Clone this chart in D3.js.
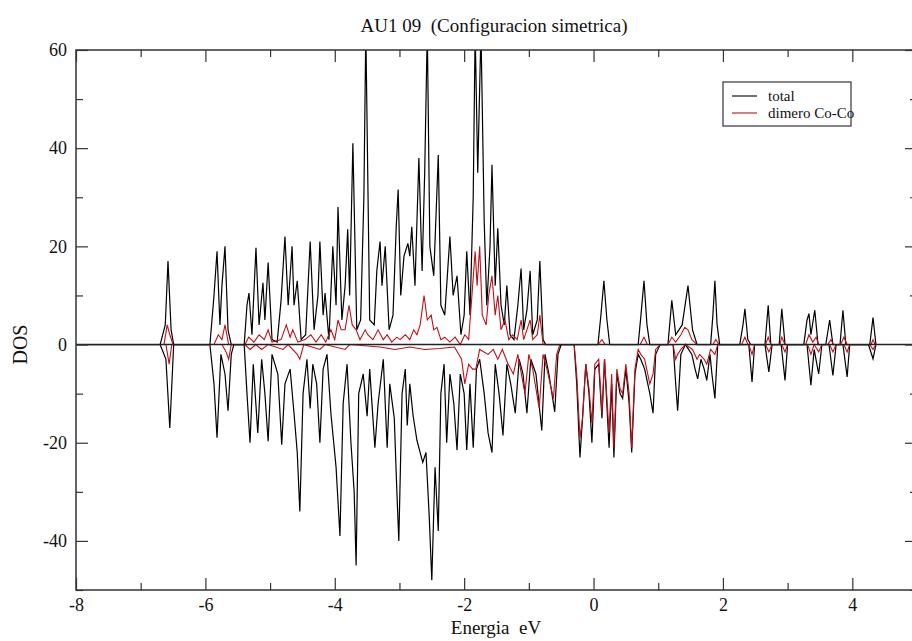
<!DOCTYPE html>
<html>
<head>
<meta charset="utf-8">
<script src="https://cdn.jsdelivr.net/npm/d3@7"></script>
<style>
  body { margin: 0; background: #fff; }
  svg { display: block; font-family: "Liberation Serif", "DejaVu Serif", serif; }
</style>
</head>
<body>
<div id="chart"></div>
<script>
// tick values
const xMajorTicks = [-8, -6, -4, -2, 0, 2, 4];
const xMinorTicks = [-7, -5, -3, -1, 1, 3];
const yMajorTicks = [-40, -20, 0, 20, 40, 60];
const yMinorTicks = [-50, -30, -10, 10, 30, 50];

const seriesNames = ["total", "dimero Co-Co"];

// total DOS, spin up  [energy eV, DOS]
const totalUp = [
  [-8, 0], [-6.70, 0], [-6.62, 4], [-6.578, 17], [-6.53, 3], [-6.49, 0],
  [-5.93, 0], [-5.867, 10], [-5.82, 19], [-5.775, 4], [-5.744, 12], [-5.697, 20], [-5.65, 3], [-5.60, 0],
  [-5.40, 0], [-5.357, 8], [-5.326, 10.5], [-5.28, 2], [-5.218, 19.7], [-5.17, 4], [-5.11, 12.6], [-5.08, 5],
  [-5.03, 16.7], [-4.97, 1], [-4.89, 0.5], [-4.83, 9], [-4.77, 22], [-4.72, 8], [-4.66, 20], [-4.63, 8],
  [-4.58, 13], [-4.52, 1], [-4.45, 2], [-4.38, 21], [-4.32, 3], [-4.26, 10], [-4.23, 21], [-4.18, 6],
  [-4.15, 10.5], [-4.09, 1], [-4.03, 20], [-3.98, 8], [-3.95, 28], [-3.89, 5], [-3.84, 12], [-3.80, 23.5],
  [-3.77, 10], [-3.72, 41], [-3.66, 3], [-3.60, 5], [-3.55, 30], [-3.52, 64], [-3.46, 5], [-3.39, 4],
  [-3.35, 15], [-3.30, 21], [-3.27, 12], [-3.22, 20], [-3.16, 3], [-3.10, 6], [-3.05, 24], [-3.02, 31.6],
  [-2.98, 10], [-2.93, 18], [-2.87, 20.6], [-2.84, 18], [-2.81, 24], [-2.76, 12], [-2.70, 38], [-2.65, 15],
  [-2.61, 35], [-2.57, 64], [-2.53, 20], [-2.47, 14], [-2.40, 38.6], [-2.36, 8], [-2.30, 6], [-2.22, 22],
  [-2.17, 10], [-2.11, 14], [-2.05, 2], [-2.00, 6], [-1.96, 19], [-1.91, 6], [-1.86, 30], [-1.83, 64],
  [-1.79, 35], [-1.74, 64], [-1.69, 25], [-1.65, 8], [-1.60, 20], [-1.57, 36.6], [-1.52, 12], [-1.48, 23.7],
  [-1.43, 8], [-1.38, 4], [-1.34, 12], [-1.29, 2], [-1.23, 1], [-1.17, 8], [-1.12, 15.5], [-1.08, 3],
  [-1.03, 7], [-0.98, 15], [-0.94, 2], [-0.87, 5], [-0.83, 17], [-0.78, 1], [-0.74, 0],
  [0.068, 0], [0.114, 6], [0.16, 13], [0.207, 5], [0.25, 0],
  [0.69, 0], [0.733, 6], [0.78, 13], [0.826, 4], [0.87, 0],
  [1.15, 0], [1.21, 9], [1.27, 2], [1.37, 4], [1.46, 12], [1.53, 3], [1.60, 0],
  [1.81, 0], [1.845, 6], [1.876, 13], [1.91, 4], [1.95, 0],
  [2.26, 0], [2.31, 4], [2.34, 7.3], [2.385, 1], [2.43, 0],
  [2.65, 0], [2.70, 8], [2.74, 0], [2.87, 0], [2.91, 7.3], [2.96, 0],
  [3.25, 0], [3.30, 5], [3.33, 6.3], [3.36, 2], [3.42, 7], [3.47, 0],
  [3.59, 0], [3.65, 5], [3.70, 0], [3.81, 0], [3.855, 7], [3.90, 0],
  [4.27, 0], [4.32, 5.5], [4.365, 0]
];

// total DOS, spin down
const totalDown = [
  [-6.70, 0], [-6.61, -3], [-6.55, -17], [-6.49, 0],
  [-5.93, 0], [-5.867, -8], [-5.82, -19], [-5.76, -2], [-5.697, -6], [-5.65, -13.5], [-5.60, -2], [-5.56, 0],
  [-5.40, 0], [-5.357, -10], [-5.31, -20], [-5.26, -4], [-5.19, -18], [-5.13, -3], [-5.08, -10], [-5.03, -19.7],
  [-4.97, -2], [-4.88, -6], [-4.82, -20.4], [-4.77, -8], [-4.69, -5], [-4.63, -14], [-4.58, -22], [-4.54, -34],
  [-4.49, -10], [-4.43, -3], [-4.38, -13], [-4.34, -4], [-4.28, -8], [-4.23, -20], [-4.18, -5], [-4.12, -2],
  [-4.06, -14], [-3.98, -25], [-3.92, -39], [-3.87, -12], [-3.81, -4], [-3.75, -20], [-3.70, -30], [-3.67, -45],
  [-3.63, -10], [-3.56, -6], [-3.50, -14.6], [-3.46, -5], [-3.38, -21], [-3.33, -12], [-3.25, -3], [-3.19, -21],
  [-3.15, -8], [-3.08, -15], [-3.04, -30], [-3.01, -40], [-2.96, -10], [-2.91, -5], [-2.88, -16.5], [-2.84, -8],
  [-2.79, -14.4], [-2.73, -19.5], [-2.68, -22], [-2.64, -24], [-2.59, -22], [-2.54, -35], [-2.50, -48], [-2.45, -25],
  [-2.40, -38], [-2.36, -10], [-2.31, -4], [-2.27, -20], [-2.22, -6], [-2.16, -12], [-2.11, -21.5], [-2.06, -6],
  [-2.00, -10], [-1.96, -21.5], [-1.91, -8], [-1.86, -21], [-1.81, -5], [-1.76, -3], [-1.69, -10], [-1.63, -18],
  [-1.57, -22], [-1.52, -4], [-1.46, -10], [-1.40, -18.5], [-1.34, -4], [-1.28, -8], [-1.21, -14], [-1.15, -3],
  [-1.09, -6], [-1.03, -14], [-0.97, -3], [-0.89, -6], [-0.80, -17.5], [-0.75, -2], [-0.69, -6], [-0.60, -13.7],
  [-0.55, -2], [-0.50, 0],
  [-0.30, 0], [-0.26, -8], [-0.21, -23], [-0.17, -15], [-0.12, -4], [-0.07, -10], [-0.025, -20], [0.02, -5],
  [0.08, -4], [0.13, -15], [0.17, -3], [0.24, -21], [0.28, -8], [0.315, -23], [0.36, -6], [0.41, -10],
  [0.45, -11], [0.50, -5], [0.55, -12], [0.59, -22], [0.64, -6], [0.69, -2], [0.73, -3], [0.79, -5],
  [0.87, -10], [0.92, -14], [0.96, -2], [1.03, 0],
  [1.23, 0], [1.27, -8], [1.30, -13.5], [1.35, -2], [1.42, 0], [1.52, -2], [1.57, -5], [1.61, -7],
  [1.66, -3], [1.71, -5], [1.75, -7.3], [1.80, -2], [1.83, -6], [1.876, -11], [1.92, 0],
  [2.40, 0], [2.45, -7.6], [2.49, 0], [2.65, 0], [2.71, -5.6], [2.76, 0], [2.90, 0], [2.96, -7.3], [3.00, 0],
  [3.30, 0], [3.36, -8.3], [3.41, -1], [3.48, -6], [3.53, 0], [3.64, 0], [3.70, -6.3], [3.75, 0],
  [3.855, 0], [3.92, -6.6], [3.96, 0], [4.25, 0], [4.32, -2.9], [4.365, 0]
];

// dimer Co-Co DOS, spin up
const dimerUp = [
  [-6.64, 0], [-6.59, 4], [-6.55, 2], [-6.50, 0],
  [-5.867, 0], [-5.80, 2], [-5.744, 1], [-5.697, 4], [-5.64, 0],
  [-5.39, 0], [-5.33, 1.5], [-5.25, 0.5], [-5.17, 2], [-5.09, 1], [-5.03, 3], [-4.97, 0.5], [-4.83, 1],
  [-4.75, 4], [-4.69, 1.5], [-4.65, 3], [-4.57, 0.5], [-4.46, 1], [-4.37, 2], [-4.29, 0.5], [-4.21, 2],
  [-4.14, 0.5], [-4.06, 3], [-4.00, 1], [-3.95, 5], [-3.90, 3], [-3.84, 3], [-3.78, 8], [-3.73, 4],
  [-3.67, 3], [-3.61, 1], [-3.53, 3], [-3.49, 2], [-3.41, 1], [-3.33, 3], [-3.25, 1], [-3.19, 2],
  [-3.12, 0.5], [-3.04, 1.5], [-2.99, 1], [-2.91, 2], [-2.84, 1], [-2.78, 3], [-2.73, 2], [-2.68, 4],
  [-2.62, 10], [-2.57, 5], [-2.51, 6], [-2.47, 3], [-2.42, 3.5], [-2.36, 1], [-2.30, 1.5], [-2.22, 0.5],
  [-2.14, 1.5], [-2.06, 0], [-1.99, 2], [-1.93, 1], [-1.88, 10], [-1.83, 19], [-1.80, 12], [-1.76, 20],
  [-1.72, 6], [-1.66, 4], [-1.62, 10], [-1.57, 14], [-1.52, 6], [-1.48, 10], [-1.43, 3], [-1.37, 5],
  [-1.31, 1], [-1.25, 2], [-1.18, 1], [-1.12, 5], [-1.08, 1], [-1.03, 3], [-0.98, 5], [-0.94, 1],
  [-0.87, 2], [-0.83, 6], [-0.78, 0],
  [0.07, 0], [0.13, 1], [0.18, 0], [0.72, 0], [0.78, 1.5], [0.83, 0],
  [1.15, 0], [1.21, 1.5], [1.27, 0.5], [1.35, 2], [1.41, 3.5], [1.46, 3], [1.52, 1], [1.60, 0],
  [1.845, 0], [1.89, 1], [1.94, 0], [2.29, 0], [2.34, 1.5], [2.385, 0], [2.66, 0], [2.70, 1.5], [2.74, 0],
  [2.88, 0], [2.91, 1.5], [2.96, 0], [3.28, 0], [3.33, 2], [3.39, 0.5], [3.44, 1.5], [3.48, 0],
  [3.62, 0], [3.67, 1], [3.71, 0], [3.82, 0], [3.87, 1.5], [3.92, 0], [4.29, 0], [4.32, 1], [4.35, 0]
];

// dimer Co-Co DOS, spin down
const dimerDown = [
  [-6.61, 0], [-6.56, -4], [-6.52, 0],
  [-5.744, 0], [-5.68, -1.5], [-5.64, -3], [-5.60, 0],
  [-5.39, 0], [-5.31, -1], [-5.22, 0], [-5.13, -1], [-5.03, 0], [-4.80, -1], [-4.72, 0], [-4.58, -2],
  [-4.54, -3], [-4.48, 0], [-4.23, -1], [-4.15, 0], [-3.84, -1], [-3.77, 0], [-3.30, -0.5], [-3.07, -1],
  [-2.84, -0.5], [-2.61, -1], [-2.38, -0.8], [-2.15, -0.5], [-2.04, -3], [-1.99, -8], [-1.93, -4],
  [-1.87, -5], [-1.82, -5], [-1.76, -1], [-1.63, -2], [-1.55, -1], [-1.48, -3], [-1.41, -1], [-1.32, -4],
  [-1.24, -6], [-1.17, -2], [-1.06, -10], [-1.00, -2], [-0.94, -5], [-0.84, -13], [-0.78, -2], [-0.72, -5],
  [-0.62, -11], [-0.57, -2], [-0.52, 0],
  [-0.30, 0], [-0.26, -6], [-0.21, -19], [-0.17, -15], [-0.12, -4], [-0.07, -9], [-0.025, -16], [0.02, -4],
  [0.08, -3], [0.13, -14], [0.17, -3], [0.24, -18], [0.28, -6], [0.315, -21], [0.36, -5], [0.41, -9],
  [0.45, -10], [0.50, -4], [0.55, -10], [0.59, -21], [0.64, -5], [0.69, -1], [0.73, -2], [0.79, -3],
  [0.87, -8], [0.92, -6], [0.96, -1], [1.03, 0],
  [1.23, 0], [1.27, -3], [1.30, -2], [1.35, -1], [1.42, 0], [1.53, -1], [1.60, -3], [1.64, -2],
  [1.71, -3], [1.75, -4], [1.81, -1], [1.876, -2], [1.92, 0],
  [2.40, 0], [2.45, -2], [2.49, 0], [2.66, 0], [2.71, -1.5], [2.76, 0], [2.91, 0], [2.96, -1.5], [3.00, 0],
  [3.31, 0], [3.36, -2], [3.41, 0], [3.48, -1.5], [3.53, 0], [3.65, 0], [3.70, -1.5], [3.75, 0],
  [3.87, 0], [3.92, -1.5], [3.96, 0], [4.27, 0], [4.32, -1], [4.365, 0]
];

const width = 912, height = 641;
const margin = {top: 50, left: 76},
    plotRight = 917,
    plotBottom = 590;

const svg = d3.select("#chart")
    .append("svg")
    .attr("width", width)
    .attr("height", height);

const x = d3.scaleLinear().domain([-8, 5]).range([margin.left, plotRight]);
const y = d3.scaleLinear().domain([-50, 60]).range([plotBottom, margin.top]);

svg.append("clipPath")
    .attr("id", "plotClip")
    .append("rect")
    .attr("x", margin.left)
    .attr("y", margin.top)
    .attr("width", plotRight - margin.left)
    .attr("height", plotBottom - margin.top);

const plot = svg.append("g").attr("clip-path", "url(#plotClip)");

const line = d3.line()
    .x(function(d) { return x(d[0]); })
    .y(function(d) { return y(d[1]); });

// black total curves first, red dimer on top
[totalUp, totalDown].forEach(function(s) {
  plot.append("path")
      .datum(s)
      .attr("d", line)
      .attr("fill", "none")
      .attr("stroke", "#000")
      .attr("stroke-width", 1.2);
});
[dimerUp, dimerDown].forEach(function(s) {
  plot.append("path")
      .datum(s)
      .attr("d", line)
      .attr("fill", "none")
      .attr("stroke", "#c01018")
      .attr("stroke-width", 1.1);
});

// zero line over the curves
plot.append("line")
    .attr("x1", margin.left).attr("x2", plotRight)
    .attr("y1", y(0)).attr("y2", y(0))
    .attr("stroke", "#222")
    .attr("stroke-width", 1.4);

// axes, ticks pointing inwards
function styleAxis(g) {
  g.select(".domain").remove();
  g.selectAll(".tick line").attr("stroke", "#333").attr("stroke-width", 1.2);
  g.selectAll("text")
      .attr("fill", "#111")
      .style("font-family", "'Liberation Serif', serif")
      .style("font-size", "18px");
}
const fmt = function(d) { return String(d); };

svg.append("g")
    .attr("transform", "translate(0," + plotBottom + ")")
    .call(d3.axisBottom(x).tickValues(xMajorTicks).tickSize(-12).tickPadding(8).tickFormat(fmt))
    .call(styleAxis);
svg.append("g")
    .attr("transform", "translate(0," + plotBottom + ")")
    .call(d3.axisBottom(x).tickValues(xMinorTicks).tickSize(-7).tickFormat(""))
    .call(styleAxis);
svg.append("g")
    .attr("transform", "translate(0," + margin.top + ")")
    .call(d3.axisTop(x).tickValues(xMajorTicks).tickSize(-12).tickFormat(""))
    .call(styleAxis);
svg.append("g")
    .attr("transform", "translate(0," + margin.top + ")")
    .call(d3.axisTop(x).tickValues(xMinorTicks).tickSize(-7).tickFormat(""))
    .call(styleAxis);

svg.append("g")
    .attr("transform", "translate(" + margin.left + ",0)")
    .call(d3.axisLeft(y).tickValues(yMajorTicks).tickSize(-12).tickPadding(9).tickFormat(fmt))
    .call(styleAxis);
svg.append("g")
    .attr("transform", "translate(" + margin.left + ",0)")
    .call(d3.axisLeft(y).tickValues(yMinorTicks).tickSize(-7).tickFormat(""))
    .call(styleAxis);
svg.append("g")
    .attr("transform", "translate(" + plotRight + ",0)")
    .call(d3.axisRight(y).tickValues(yMajorTicks).tickSize(-12).tickFormat(""))
    .call(styleAxis);
svg.append("g")
    .attr("transform", "translate(" + plotRight + ",0)")
    .call(d3.axisRight(y).tickValues(yMinorTicks).tickSize(-7).tickFormat(""))
    .call(styleAxis);

// frame
svg.append("rect")
    .attr("x", margin.left).attr("y", margin.top)
    .attr("width", plotRight - margin.left)
    .attr("height", plotBottom - margin.top)
    .attr("fill", "none")
    .attr("stroke", "#333")
    .attr("stroke-width", 1.5);

// titles
svg.append("text")
    .attr("x", 494).attr("y", 32)
    .attr("text-anchor", "middle")
    .style("font-size", "19px")
    .style("white-space", "pre")
    .attr("fill", "#111")
    .text("AU1 09  (Configuracion simetrica)");

svg.append("text")
    .attr("x", 496).attr("y", 634)
    .attr("text-anchor", "middle")
    .style("font-size", "19px")
    .style("white-space", "pre")
    .attr("fill", "#111")
    .text("Energia  eV");

svg.append("text")
    .attr("transform", "translate(27," + y(0) + ")rotate(-90)")
    .attr("text-anchor", "middle")
    .style("font-size", "20px")
    .attr("fill", "#111")
    .text("DOS");

// legend
const legend = svg.append("g").attr("transform", "translate(723,82)");
legend.append("rect")
    .attr("width", 128).attr("height", 44)
    .attr("fill", "#fff")
    .attr("stroke", "#333")
    .attr("stroke-width", 1.2);
const legendColors = ["#000", "#c01018"];
seriesNames.forEach(function(name, i) {
  legend.append("line")
      .attr("x1", 9).attr("x2", 34)
      .attr("y1", 14 + i * 17).attr("y2", 14 + i * 17)
      .attr("stroke", legendColors[i])
      .attr("stroke-width", 1.1);
  legend.append("text")
      .attr("x", 45).attr("y", 14 + i * 17)
      .attr("dy", "0.35em")
      .style("font-size", "15px")
      .attr("fill", "#111")
      .text(name);
});
</script>
</body>
</html>
